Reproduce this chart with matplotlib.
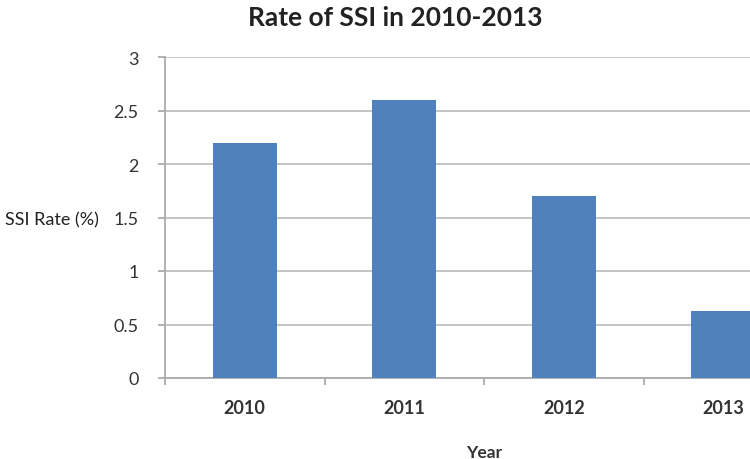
import matplotlib
matplotlib.use("Agg")
import matplotlib.pyplot as plt
import numpy as np

years = ["2010", "2011", "2012", "2013"]
ssi_rate = [2.2, 2.6, 1.7, 0.63]
yticks = [0, 0.5, 1, 1.5, 2, 2.5, 3]
ytick_labels = ["0", "0.5", "1", "1.5", "2", "2.5", "3"]

plt.rcParams['font.family'] = ['Lato', 'DejaVu Sans']

W, H = 750, 460
fig = plt.figure(figsize=(W/100, H/100), dpi=100)
left, right, bottom, top = 165, 803, 379, 58
ax = fig.add_axes([left/W, 1 - bottom/H, (right-left)/W, (bottom-top)/H])

x = np.arange(len(years))
ax.bar(x, ssi_rate, width=0.4, color="#4F81BD", zorder=3)

ax.set_xlim(-0.5, len(years) - 0.5)
ax.set_ylim(0, 3)
ax.set_yticks(yticks)
ax.set_yticklabels(ytick_labels, fontsize=13, color="#333333")
ax.yaxis.grid(True, color="#BFBFBF", linewidth=1.3, zorder=0)
ax.set_axisbelow(True)

ax.set_xticks(x)
ax.set_xticklabels(years, fontsize=13, fontweight="bold", color="#333333")
ax.set_xticks(np.arange(-0.5, len(years)), minor=True)
ax.tick_params(axis="x", which="major", length=0, pad=15)
ax.tick_params(axis="x", which="minor", length=5, width=1.3, color="#AAAAAA", direction="out")
ax.tick_params(axis="y", length=5, width=1.3, color="#AAAAAA", pad=14)

for s in ["top", "right"]:
    ax.spines[s].set_visible(False)
for s in ["left", "bottom"]:
    ax.spines[s].set_color("#AAAAAA")
    ax.spines[s].set_linewidth(1.3)

ax.set_xlabel("Year", fontsize=12.5, fontweight="bold", color="#333333", labelpad=20)

fig.text(395/W, 1 - 18/H, "Rate of SSI in 2010-2013", fontsize=19, fontweight="bold",
         ha="center", va="center", color="#222222")
fig.text(5/W, 1 - 220/H, "SSI Rate (%)", fontsize=13, ha="left", va="center", color="#222222")

fig.savefig("out.png", dpi=100)
